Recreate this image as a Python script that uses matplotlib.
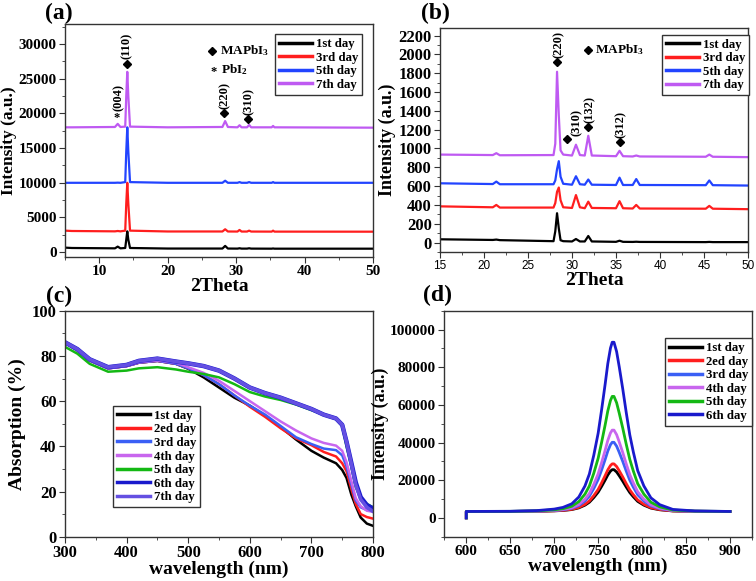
import matplotlib
matplotlib.use("Agg")
import matplotlib.pyplot as plt
from matplotlib.ticker import MultipleLocator

plt.rcParams['font.family'] = ['Liberation Serif', 'DejaVu Serif']
plt.rcParams['font.weight'] = 'bold'
plt.rcParams['axes.labelweight'] = 'bold'
plt.rcParams['mathtext.fontset'] = 'custom'
plt.rcParams['mathtext.rm'] = 'Liberation Serif:bold'
plt.rcParams['mathtext.it'] = 'Liberation Serif:bold'
plt.rcParams['mathtext.bf'] = 'Liberation Serif:bold'

# ---- (a) XRD, full range ----
xrd_a_x = [5, 6, 12.3, 12.7, 13.1, 13.8, 13.95, 14.1, 14.25, 14.5, 20, 28.0, 28.4, 28.8,
           30.2, 30.5, 30.8, 31.6, 31.9, 32.2, 35.2, 35.4, 35.6, 50]
xrd_a_day1 = [650, 600, 550, 800, 550, 600, 1800, 3000, 1800, 600, 520, 520, 900, 520,
              510, 560, 510, 510, 560, 510, 500, 530, 500, 500]
xrd_a_day3 = [3100, 3050, 3000, 3050, 3000, 3100, 7000, 10000, 7000, 3100, 2980, 2980, 3300, 2980,
              2970, 3200, 2970, 2970, 3100, 2970, 2960, 3100, 2960, 2950]
xrd_a_day5 = [10000, 10000, 10000, 10020, 10000, 10100, 14500, 18000, 14500, 10100, 10000, 10000, 10300, 10000,
              10000, 10100, 10000, 10000, 10100, 10000, 10000, 10100, 10000, 10000]
xrd_a_day7 = [18000, 18000, 18050, 18500, 18050, 18100, 22500, 26000, 22500, 18100, 18000, 18050, 18900, 18050,
              18000, 18300, 18000, 18000, 18350, 18000, 18000, 18200, 18000, 17950]
xrd_a_labels = ['1st day', '3rd day', '5th day', '7th day']

# ---- (b) XRD, zoomed ----
xrd_b_x = [15, 21.0, 21.4, 21.8, 27.9, 28.1, 28.3, 28.5, 28.7, 29.0, 30.0, 30.45, 30.9,
           31.45, 31.85, 32.25, 35.0, 35.4, 35.8, 36.9, 37.3, 37.7, 45.2, 45.6, 46.0, 50]
xrd_b_day1 = [35, 28, 32, 26, 15, 120, 312, 150, 25, 15, 12, 38, 12,
              12, 70, 12, 8, 20, 8, 7, 9, 7, 5, 7, 5, 5]
xrd_b_day3 = [385, 375, 400, 372, 372, 420, 540, 585, 450, 375, 368, 505, 375,
              365, 435, 368, 365, 440, 365, 362, 400, 362, 360, 390, 360, 355]
xrd_b_day5 = [630, 622, 648, 620, 620, 660, 780, 865, 700, 625, 615, 705, 620,
              615, 670, 615, 612, 690, 612, 612, 675, 612, 610, 660, 610, 606]
xrd_b_day7 = [935, 930, 950, 928, 930, 1050, 1815, 1350, 980, 935, 925, 1040, 930,
              925, 1135, 925, 918, 975, 918, 915, 925, 915, 912, 935, 912, 908]

# ---- (c) absorption ----
abs_x = [300, 320, 340, 370, 400, 420, 450, 480, 500, 525, 550, 575, 600, 625, 650, 675,
         700, 720, 740, 750, 757, 765, 772, 780, 790, 800]
abs_day1 = [85.8, 82.5, 78, 74.5, 75.5, 77, 77.8, 76.5, 74.3, 70.5, 66, 61.5, 58, 53.5, 48.5, 43,
            38, 35, 32.5, 29.5, 26, 18.5, 13.5, 8.5, 5.8, 4.8]
abs_day2 = [85.8, 82.5, 78, 74.5, 75.5, 77, 77.8, 76.5, 74.5, 71.5, 67.5, 62.5, 57.5, 53, 48, 43.5,
            40.5, 37.5, 35.5, 32.5, 29, 21, 14.5, 10, 8.7, 8]
abs_day3 = [85.8, 82.5, 78, 74.5, 75.5, 77, 77.8, 76.5, 74.5, 71.5, 67.5, 62.5, 58, 54, 49, 44,
            41, 39, 38.3, 36, 31, 23, 16, 13, 11.8, 11.5]
abs_day4 = [85.8, 82.5, 78, 74.5, 75.5, 77.2, 78, 77, 75, 72.5, 69, 64.5, 60, 55.5, 51, 47,
            43.5, 41.5, 40.3, 38, 33, 24.5, 17, 13.5, 11.5, 11]
abs_day5 = [84, 81, 76.5, 73, 73.5, 74.5, 75, 74, 73, 72, 70.5, 67.5, 64, 62, 60.5, 58.5,
            56, 54, 52, 49, 40, 31, 22, 17, 14.5, 13]
abs_day6 = [86, 83, 78.5, 75, 76, 77.8, 78.8, 77.5, 76.7, 75.5, 73.5, 70, 66, 63.5, 61.5, 59,
            56.5, 54, 52.3, 49.5, 42, 32.5, 24, 17.5, 14, 12.5]
abs_day7 = [86, 83, 78.5, 75, 76, 77.8, 78.8, 77.5, 76.7, 75.5, 73.5, 70, 66, 63.5, 61.5, 59,
            56.5, 54, 52.3, 49.5, 42, 32, 23, 16.5, 13, 11.2]
abs_labels = ['1st day', '2ed day', '3rd day', '4th day', '5th day', '6th day', '7th day']

# ---- (d) PL ----
pl_x = [600, 600, 650, 680, 700, 710, 720, 728, 735, 740, 745, 750, 754, 758, 761, 764, 766,
        768, 771, 774, 778, 782, 786, 790, 795, 802, 810, 820, 835, 860, 900]
pl_day1 = [0, 3400, 3422, 3512, 3712, 3935, 4404, 5296, 6745, 8306, 10759, 13658, 16780, 20125,
           22801, 24808, 25589, 25589, 24362, 22355, 19456, 16334, 13435, 11205, 8752, 6745,
           5184, 4292, 3668, 3467, 3400]
pl_day2 = [0, 3400, 3425, 3527, 3756, 4010, 4543, 5559, 7210, 8988, 11782, 15084, 18640, 22450,
           25498, 27784, 28673, 28673, 27276, 24990, 21688, 18132, 14830, 12290, 9496, 7210,
           5432, 4416, 3705, 3476, 3400]
pl_day3 = [0, 3400, 3437, 3585, 3917, 4286, 5061, 6537, 8935, 11518, 15577, 20374, 25540, 31075,
           35503, 38824, 40116, 40116, 38086, 34765, 29968, 24802, 20005, 16315, 12256, 8935,
           6352, 4876, 3843, 3511, 3400]
pl_day4 = [0, 3400, 3443, 3617, 4008, 4442, 5353, 7089, 9910, 12948, 17722, 23364, 29440, 35950,
           41158, 45064, 46583, 46583, 44196, 40290, 34648, 28572, 22930, 18590, 13816, 9910,
           6872, 5136, 3921, 3530, 3400]
pl_day5 = [0, 3400, 3461, 3707, 4260, 4874, 6163, 8619, 12610, 16908, 23662, 31644, 40240, 49450,
           56818, 62344, 64493, 64493, 61116, 55590, 47608, 39012, 31030, 24890, 18136, 12610,
           8312, 5856, 4137, 3584, 3400]
pl_day6 = [0, 3400, 3490, 3852, 4664, 5567, 7464, 11076, 16945, 23266, 33199, 44938, 57580, 71125,
           81961, 90088, 93249, 93249, 88282, 80155, 68416, 55774, 44035, 35005, 25072, 16945,
           10624, 7012, 4484, 3671, 3400]
pl_labels = ['1st day', '2ed day', '3rd day', '4th day', '5th day', '6th day']

c_black = '#000000'
c_red = '#ff1e1e'
c_blue = '#2244ff'
c_violet = '#bf5af2'
c_blue3 = '#3a5ff5'
c_pink = '#c866ee'
c_green = '#14b814'
c_navy = '#1a1acc'
c_purple7 = '#6450e2'

fig = plt.figure(figsize=(7.56, 5.81), dpi=100)
W, H = 756, 581


def make_ax(l, t, r, b):
    return fig.add_axes([l / W, 1 - b / H, (r - l) / W, (b - t) / H])


def style(ax, tick_size=11.5):
    for s in ax.spines.values():
        s.set_color('#333333')
        s.set_linewidth(1.0)
    ax.tick_params(which='both', direction='out', top=False, right=False, color='#333333')
    ax.tick_params(which='major', length=4, labelsize=tick_size, pad=2)
    ax.tick_params(which='minor', length=2)
    for lab in ax.get_xticklabels() + ax.get_yticklabels():
        lab.set_fontweight('bold')


def legend(ax, x, y, lw=2.5):
    leg = ax.legend(loc='upper left', bbox_to_anchor=(x, y), borderaxespad=0, fancybox=False,
                    edgecolor='#333333', framealpha=1, handlelength=2.6, handletextpad=0.3,
                    labelspacing=0.12, borderpad=0.3, prop={'size': 9.2, 'weight': 'bold'})
    leg.get_frame().set_linewidth(1.0)
    for ln in leg.get_lines():
        ln.set_linewidth(lw)
    return leg


# (a)
ax = make_ax(65, 24, 373, 257)
for ys, c, lab in zip([xrd_a_day1, xrd_a_day3, xrd_a_day5, xrd_a_day7],
                      [c_black, c_red, c_blue, c_violet], xrd_a_labels):
    ax.plot(xrd_a_x, ys, color=c, lw=1.6, label=lab)
ax.set_xlim(5, 50)
ax.set_ylim(-700, 32900)
ax.xaxis.set_major_locator(MultipleLocator(10))
ax.xaxis.set_minor_locator(MultipleLocator(5))
ax.yaxis.set_major_locator(MultipleLocator(5000))
ax.yaxis.set_minor_locator(MultipleLocator(2500))
ax.set_xlabel('2Theta', fontsize=14, labelpad=0)
style(ax, 11)
ax.set_ylabel('Intensity (a.u.)', fontsize=12.5, labelpad=1)
legend(ax, 0.682, 0.955)
# peak marks
for x, y in [(14.05, 27200), (28.3, 20100), (31.7, 19200), (26.5, 29050)]:
    ax.plot(x, y, marker='D', ms=4, color='k', mec='k')
for x, y, t in [(14.05, 27900, '(110)'), (28.4, 20600, '(220)'), (31.85, 19800, '(310)'),
                (12.85, 20300, '(004)')]:
    ax.text(x, y, t, rotation=90, ha='center', va='bottom', fontsize=9)
ax.text(12.55, 19300, '*', ha='center', va='center', fontsize=9)
ax.text(26.7, 26000, '*', ha='center', va='center', fontsize=9)
ax.text(27.6, 29050, r'MAPbI$_3$', ha='left', va='center', fontsize=9.5)
ax.text(27.8, 26300, r'PbI$_2$', ha='left', va='center', fontsize=9.5)
fig.text(45 / W, 1 - 13 / H, '(a)', fontsize=17, ha='left', va='center')

# (b)
ax = make_ax(440, 28, 748, 252)
for ys, c, lab in zip([xrd_b_day1, xrd_b_day3, xrd_b_day5, xrd_b_day7],
                      [c_black, c_red, c_blue, c_violet], xrd_a_labels):
    ax.plot(xrd_b_x, ys, color=c, lw=1.6, label=lab)
ax.set_xlim(15, 50)
ax.set_ylim(-100, 2280)
ax.xaxis.set_major_locator(MultipleLocator(5))
ax.xaxis.set_minor_locator(MultipleLocator(2.5))
ax.yaxis.set_major_locator(MultipleLocator(200))
ax.yaxis.set_minor_locator(MultipleLocator(100))
ax.set_xlabel('2Theta', fontsize=14, labelpad=0)
ax.set_ylabel('Intensity (a.u.)', fontsize=13, labelpad=2)
style(ax, 12)
for lab in ax.get_xticklabels():
    lab.set_fontfamily(['Liberation Sans', 'DejaVu Sans'])
    lab.set_fontweight('normal')
    lab.set_fontsize(8.5)
legend(ax, 0.72, 0.969)
for x, y in [(28.3, 1918), (29.4, 1099), (31.8, 1227), (35.4, 1064), (31.8, 2050)]:
    ax.plot(x, y, marker='D', ms=4, color='k', mec='k')
for x, y, t in [(28.5, 1960, '(220)'), (30.5, 1130, '(310)'), (32.0, 1270, '(132)'),
                (35.5, 1110, '(312)')]:
    ax.text(x, y, t, rotation=90, ha='center', va='bottom', fontsize=9)
ax.text(32.6, 2050, r'MAPbI$_3$', ha='left', va='center', fontsize=9.5)
fig.text(421 / W, 1 - 13 / H, '(b)', fontsize=17, ha='left', va='center')

# (c)
ax = make_ax(65, 310.7, 373, 536.7)
abs_series = [abs_day1, abs_day2, abs_day3, abs_day4, abs_day5, abs_day6, abs_day7]
abs_colors = [c_black, c_red, c_blue3, c_pink, c_green, c_navy, c_purple7]
abs_lw = [1.8, 1.8, 1.8, 1.8, 1.8, 3.2, 2.6]
for ys, c, lw, lab in zip(abs_series, abs_colors, abs_lw, abs_labels):
    ax.plot(abs_x, ys, color=c, lw=lw, label=lab)
ax.set_xlim(300, 800)
ax.set_ylim(0, 100)
ax.xaxis.set_major_locator(MultipleLocator(100))
ax.xaxis.set_minor_locator(MultipleLocator(50))
ax.yaxis.set_major_locator(MultipleLocator(20))
ax.yaxis.set_minor_locator(MultipleLocator(10))
ax.set_xlabel('wavelength (nm)', fontsize=14, labelpad=0)
ax.set_ylabel('Absorption (%)', fontsize=14, labelpad=4)
style(ax, 12)
legend(ax, 0.155, 0.578)
fig.text(46 / W, 1 - 296 / H, '(c)', fontsize=17, ha='left', va='center')

# (d)
ax = make_ax(444.3, 310.7, 752, 536.7)
pl_series = [pl_day1, pl_day2, pl_day3, pl_day4, pl_day5, pl_day6]
pl_colors = [c_black, c_red, c_blue3, c_pink, c_green, c_navy]
for ys, c, lab in zip(pl_series, pl_colors, pl_labels):
    ax.plot(pl_x, ys, color=c, lw=2.0, label=lab)
ax.set_xlim(575, 925)
ax.set_ylim(-10000, 110000)
ax.xaxis.set_major_locator(MultipleLocator(50))
ax.xaxis.set_minor_locator(MultipleLocator(25))
ax.yaxis.set_major_locator(MultipleLocator(20000))
ax.yaxis.set_minor_locator(MultipleLocator(10000))
ax.set_xlabel('wavelength (nm)', fontsize=14, labelpad=0)
ax.set_ylabel('Intensity (a.u.)', fontsize=13, labelpad=1)
style(ax, 11)
legend(ax, 0.717, 0.878)
fig.text(423 / W, 1 - 295 / H, '(d)', fontsize=17, ha='left', va='center')

fig.savefig('out.png', dpi=100)
